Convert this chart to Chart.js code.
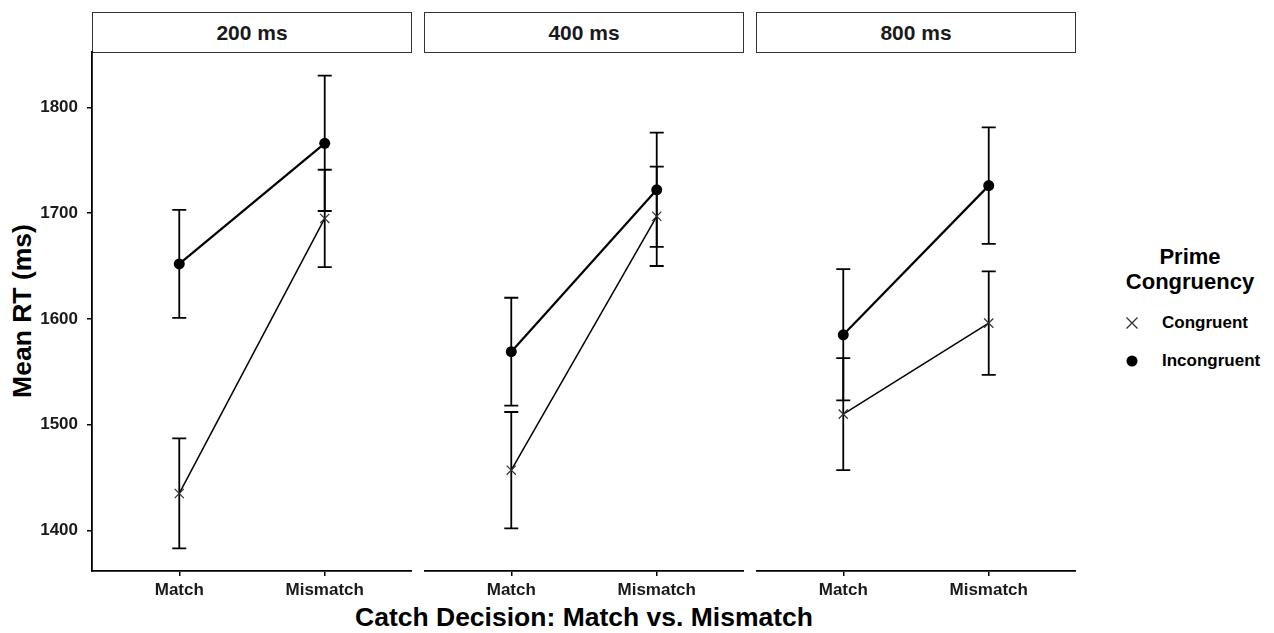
<!DOCTYPE html>
<html>
<head>
<meta charset="utf-8">
<script src="https://cdn.jsdelivr.net/npm/chart.js@4/dist/chart.umd.min.js"></script>
<style>
html,body{margin:0;padding:0;background:#fff;}
body{width:1274px;height:633px;position:relative;overflow:hidden;font-family:"Liberation Sans",Arial,sans-serif;}
canvas{position:absolute;top:0;}
.strip{position:absolute;top:12px;height:41px;box-sizing:border-box;border:1px solid #333;background:#fff;font-weight:bold;font-size:21px;color:#1a1a1a;display:flex;align-items:center;justify-content:center;}
.xtitle{position:absolute;left:92px;width:984px;top:601px;text-align:center;font-weight:bold;font-size:26.5px;line-height:32px;color:#000;}
.ytitle{position:absolute;left:22px;top:311px;transform:translate(-50%,-50%) rotate(-90deg);white-space:nowrap;font-weight:bold;font-size:26.5px;line-height:32px;color:#000;}
.ltitle{position:absolute;left:1110px;width:160px;top:244px;text-align:center;font-weight:bold;font-size:22px;line-height:25px;color:#000;}
.litem{position:absolute;left:1162px;font-weight:bold;font-size:17px;line-height:20px;color:#000;white-space:nowrap;}
.lmark{position:absolute;}
</style>
</head>
<body>
<div class="xtitle">Catch Decision: Match vs. Mismatch</div>
<div class="ytitle">Mean RT (ms)</div>
<div class="ltitle">Prime<br>Congruency</div>
<svg class="lmark" style="left:1124px;top:315px" width="16" height="16"><path d="M2.5 2.5 L13.5 13.5 M13.5 2.5 L2.5 13.5" stroke="#333" stroke-width="1.3"/></svg>
<div class="litem" style="top:313px">Congruent</div>
<svg class="lmark" style="left:1124px;top:353px" width="16" height="16"><circle cx="8" cy="8" r="5.5" fill="#000"/></svg>
<div class="litem" style="top:351px">Incongruent</div>
<script>
// ---- data ----
const panels = ['200 ms', '400 ms', '800 ms'];
const categories = ['Match', 'Mismatch'];
const seriesNames = ['Congruent', 'Incongruent'];
const congruentMean   = [[1435, 1695], [1457, 1697], [1510, 1596]];
const congruentErr    = [[52, 46], [55, 47], [53, 49]];
const incongruentMean = [[1652, 1766], [1569, 1722], [1585, 1726]];
const incongruentErr  = [[51, 64], [51, 54], [62, 55]];
const yTicks = [1400, 1500, 1600, 1700, 1800];
const yMin = 1361.7, yMax = 1852.3;

// ---- layout ----
const panelLeft = [92, 424, 756];
const panelW = 320;
const yAxisW = 92;
const FONT = '"Liberation Sans", Arial, sans-serif';

const errorBarPlugin = {
  id: 'errbars',
  beforeDatasetsDraw(chart) {
    const ctx = chart.ctx, ys = chart.scales.y;
    chart.data.datasets.forEach((ds, di) => {
      const meta = chart.getDatasetMeta(di);
      meta.data.forEach((pt, k) => {
        const d = ds.data[k];
        const top = ys.getPixelForValue(d.y + d.e);
        const bot = ys.getPixelForValue(d.y - d.e);
        const hw = 7;
        ctx.save();
        ctx.strokeStyle = '#000';
        ctx.lineWidth = 1.8;
        ctx.beginPath();
        ctx.moveTo(pt.x, top); ctx.lineTo(pt.x, bot);
        ctx.moveTo(pt.x - hw, top); ctx.lineTo(pt.x + hw, top);
        ctx.moveTo(pt.x - hw, bot); ctx.lineTo(pt.x + hw, bot);
        ctx.stroke();
        ctx.restore();
      });
    });
  }
};

panels.forEach((name, i) => {
  const strip = document.createElement('div');
  strip.className = 'strip';
  strip.style.left = panelLeft[i] + 'px';
  strip.style.width = panelW + 'px';
  strip.textContent = name;
  document.body.appendChild(strip);

  const cv = document.createElement('canvas');
  const left = i === 0 ? panelLeft[0] - yAxisW : panelLeft[i];
  const w = i === 0 ? panelW + yAxisW : panelW;
  cv.width = w; cv.height = 600;
  cv.style.left = left + 'px';
  cv.style.width = w + 'px';
  cv.style.height = '600px';
  document.body.appendChild(cv);

  const mk = (means, errs) => categories.map((c, j) => ({ x: j + 1, y: means[i][j], e: errs[i][j] }));

  new Chart(cv, {
    type: 'line',
    data: {
      datasets: [
        {
          label: seriesNames[0], data: mk(congruentMean, congruentErr),
          borderColor: '#000', borderWidth: 1.5, tension: 0, fill: false,
          pointStyle: 'crossRot', pointRadius: 6.5, pointBorderWidth: 1.2,
          pointBorderColor: '#333', pointBackgroundColor: 'rgba(0,0,0,0)'
        },
        {
          label: seriesNames[1], data: mk(incongruentMean, incongruentErr),
          borderColor: '#000', borderWidth: 2.2, tension: 0, fill: false,
          pointStyle: 'circle', pointRadius: 5.5, pointBorderWidth: 0,
          pointBackgroundColor: '#000', pointBorderColor: '#000'
        }
      ]
    },
    options: {
      responsive: false, animation: false, devicePixelRatio: 1,
      layout: { autoPadding: false, padding: { top: 52, left: 0, right: 0, bottom: 0 } },
      plugins: { legend: { display: false }, tooltip: { enabled: false } },
      scales: {
        x: {
          type: 'linear', min: 0.4, max: 2.6,
          afterBuildTicks: s => { s.ticks = categories.map((c, j) => ({ value: j + 1 })); },
          afterFit: s => { s.height = 29; s.paddingLeft = 0; s.paddingRight = 0; },
          ticks: {
            callback: v => categories[Math.round(v) - 1],
            font: { family: FONT, size: 17, weight: 'bold' }, color: '#1a1a1a',
            padding: 4, autoSkip: false, maxRotation: 0
          },
          grid: { display: true, drawOnChartArea: false, drawTicks: true, tickLength: 5, color: '#000', lineWidth: 1.5 },
          border: { display: true, color: '#000', width: 1.8 }
        },
        y: {
          display: i === 0, min: yMin, max: yMax,
          afterBuildTicks: s => { s.ticks = yTicks.map(v => ({ value: v })); },
          afterFit: s => { if (i === 0) s.width = yAxisW; s.paddingTop = 0; s.paddingBottom = 0; },
          ticks: {
            callback: v => String(v),
            font: { family: FONT, size: 17, weight: 'bold' }, color: '#1a1a1a',
            padding: 9
          },
          grid: { display: true, drawOnChartArea: false, drawTicks: true, tickLength: 5, color: '#000', lineWidth: 1.5 },
          border: { display: true, color: '#000', width: 1.8 }
        }
      }
    },
    plugins: [errorBarPlugin]
  });
});
</script>
</body>
</html>
